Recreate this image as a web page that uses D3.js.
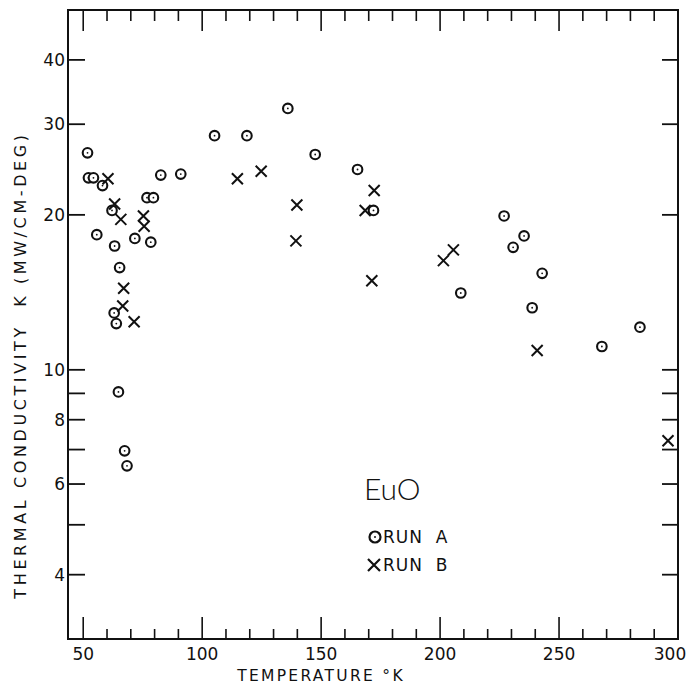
<!DOCTYPE html>
<html>
<head>
  <meta charset="utf-8">
  <title>EuO thermal conductivity</title>
  <script src="https://d3js.org/d3.v7.min.js"></script>
  <style>
    body {
      margin: 0;
      padding: 0;
      background-color: white;
    }
    text {
      font-family: "DejaVu Sans", sans-serif;
      fill: #111;
    }
    .tick-label {
      font-size: 17px;
    }
    .axis-title {
      font-size: 15.5px;
      letter-spacing: 2.3px;
    }
  </style>
</head>
<body>
  <div id="chart"></div>
  <script>
    // Run A (circles) and Run B (crosses)
    var runATemp = [51.8, 52.2, 54.3, 58.1, 55.7, 62.1, 63.2, 65.3, 63.0, 63.9, 64.8, 67.4, 68.4,
                    71.7, 76.8, 79.5, 78.4, 82.6, 91.0, 105.2, 118.8, 136.0, 147.5, 165.3, 172.0,
                    208.7, 226.9, 230.7, 235.3, 242.9, 238.7, 268.0, 284.0];
    var runAK    = [26.4, 23.6, 23.6, 22.8, 18.3, 20.4, 17.4, 15.8, 12.9, 12.3, 9.06, 6.96, 6.51,
                    18.0, 21.6, 21.6, 17.7, 23.9, 24.0, 28.5, 28.5, 32.2, 26.2, 24.5, 20.4,
                    14.1, 19.9, 17.3, 18.2, 15.4, 13.2, 11.1, 12.1];
    var runBTemp = [60.4, 63.2, 65.8, 75.3, 75.6, 67.0, 66.6, 71.4, 114.8, 124.8, 139.8, 139.4,
                    172.3, 168.5, 171.3, 201.4, 205.6, 240.8, 295.8];
    var runBK    = [23.5, 21.0, 19.6, 19.9, 19.0, 14.4, 13.3, 12.4, 23.5, 24.3, 20.9, 17.8,
                    22.3, 20.4, 14.9, 16.3, 17.1, 10.9, 7.28];

    var xTickLabels = [50, 100, 150, 200, 250, 300];
    var yTicks = [40, 30, 20, 10, 9, 8, 7, 6, 5, 4];
    var yTickLabels = [40, 30, 20, 10, 8, 6, 4];

    var width = 688,
        height = 686,
        margin = {top: 10, right: 10, bottom: 47, left: 68};

    var svg = d3.select("#chart")
      .append("svg")
        .attr("width", width)
        .attr("height", height);

    var x = d3.scaleLinear()
        .domain([43.6, 300])
        .range([margin.left, width - margin.right]);

    var y = d3.scaleLog()
        .domain([3, 50])
        .range([height - margin.bottom, margin.top]);

    var x0 = x.range()[0], x1 = x.range()[1];
    var y0 = y.range()[1], y1 = y.range()[0];

    // minor temperature ticks every 10 degrees
    var xTicks = d3.range(50, 300, 10);

    var ink = "#111";

    // bottom ticks
    svg.append("g").selectAll("line")
        .data(xTicks)
      .enter().append("line")
        .attr("x1", function(d) { return x(d); })
        .attr("x2", function(d) { return x(d); })
        .attr("y1", y1)
        .attr("y2", function(d) { return y1 - (d % 50 === 0 ? 22 : 10); })
        .attr("stroke", ink)
        .attr("stroke-width", 1.6);

    // top ticks
    svg.append("g").selectAll("line")
        .data(xTicks)
      .enter().append("line")
        .attr("x1", function(d) { return x(d); })
        .attr("x2", function(d) { return x(d); })
        .attr("y1", y0)
        .attr("y2", function(d) { return y0 + (d % 50 === 0 ? 21 : 11); })
        .attr("stroke", ink)
        .attr("stroke-width", 1.6);

    // left and right ticks
    svg.append("g").selectAll("line")
        .data(yTicks)
      .enter().append("line")
        .attr("x1", x0)
        .attr("x2", x0 + 17)
        .attr("y1", function(d) { return y(d); })
        .attr("y2", function(d) { return y(d); })
        .attr("stroke", ink)
        .attr("stroke-width", 1.8);

    svg.append("g").selectAll("line")
        .data(yTicks)
      .enter().append("line")
        .attr("x1", x1)
        .attr("x2", x1 - 16)
        .attr("y1", function(d) { return y(d); })
        .attr("y2", function(d) { return y(d); })
        .attr("stroke", ink)
        .attr("stroke-width", 1.8);

    // frame
    svg.append("rect")
        .attr("x", x0)
        .attr("y", y0)
        .attr("width", x1 - x0)
        .attr("height", y1 - y0)
        .attr("fill", "none")
        .attr("stroke", ink)
        .attr("stroke-width", 2);

    // tick labels (the last one sits a little left, at the page edge)
    svg.append("g").selectAll("text")
        .data(xTickLabels)
      .enter().append("text")
        .attr("class", "tick-label")
        .attr("x", function(d) { return d === 300 ? x(d) - 8 : x(d); })
        .attr("y", 660)
        .attr("text-anchor", "middle")
        .text(function(d) { return d; });

    svg.append("g").selectAll("text")
        .data(yTickLabels)
      .enter().append("text")
        .attr("class", "tick-label")
        .attr("x", x0 - 3)
        .attr("y", function(d) { return y(d) + 6; })
        .attr("text-anchor", "end")
        .text(function(d) { return d; });

    // axis titles
    svg.append("text")
        .attr("class", "axis-title")
        .attr("x", 321)
        .attr("y", 681)
        .attr("text-anchor", "middle")
        .text("TEMPERATURE °K");

    svg.append("text")
        .attr("class", "axis-title")
        .attr("transform", "translate(26,365) rotate(-90)")
        .attr("text-anchor", "middle")
        .attr("xml:space", "preserve")
        .style("font-size", "16px")
        .style("letter-spacing", "3.6px")
        .text("THERMAL CONDUCTIVITY  K (MW/CM-DEG)");

    // Run A circles
    var runA = runATemp.map(function(t, i) { return [t, runAK[i]]; });
    var runB = runBTemp.map(function(t, i) { return [t, runBK[i]]; });

    var ptsA = svg.append("g").selectAll("g")
        .data(runA)
      .enter().append("g")
        .attr("transform", function(d) { return "translate(" + x(d[0]) + "," + y(d[1]) + ")"; });
    ptsA.append("circle")
        .attr("r", 4.8)
        .attr("fill", "white")
        .attr("stroke", ink)
        .attr("stroke-width", 2.1);
    ptsA.append("circle")
        .attr("r", 0.9)
        .attr("fill", ink);

    var cross = "M-5.5,-5.5L5.5,5.5M-5.5,5.5L5.5,-5.5";
    svg.append("g").selectAll("path")
        .data(runB)
      .enter().append("path")
        .attr("transform", function(d) { return "translate(" + x(d[0]) + "," + y(d[1]) + ")"; })
        .attr("d", cross)
        .attr("stroke", ink)
        .attr("stroke-width", 2)
        .attr("fill", "none");

    // legend
    svg.append("text")
        .attr("x", 364)
        .attr("y", 500)
        .style("font-size", "30px")
        .style("font-weight", 300)
        .style("font-family", "Lato, sans-serif")
        .text("EuO");

    var lg = svg.append("g");
    lg.append("circle")
        .attr("cx", 375).attr("cy", 537).attr("r", 5.5)
        .attr("fill", "none").attr("stroke", ink).attr("stroke-width", 2.2);
    lg.append("circle")
        .attr("cx", 375).attr("cy", 537).attr("r", 1).attr("fill", ink);
    lg.append("text")
        .attr("x", 383).attr("y", 543)
        .attr("xml:space", "preserve")
        .style("font-size", "17px")
        .style("letter-spacing", "1px")
        .text("RUN  A");
    lg.append("path")
        .attr("transform", "translate(374,565)")
        .attr("d", "M-6,-6L6,6M-6,6L6,-6")
        .attr("stroke", ink).attr("stroke-width", 2.2);
    lg.append("text")
        .attr("x", 383).attr("y", 571)
        .attr("xml:space", "preserve")
        .style("font-size", "17px")
        .style("letter-spacing", "1px")
        .text("RUN  B");
  </script>
</body>
</html>
